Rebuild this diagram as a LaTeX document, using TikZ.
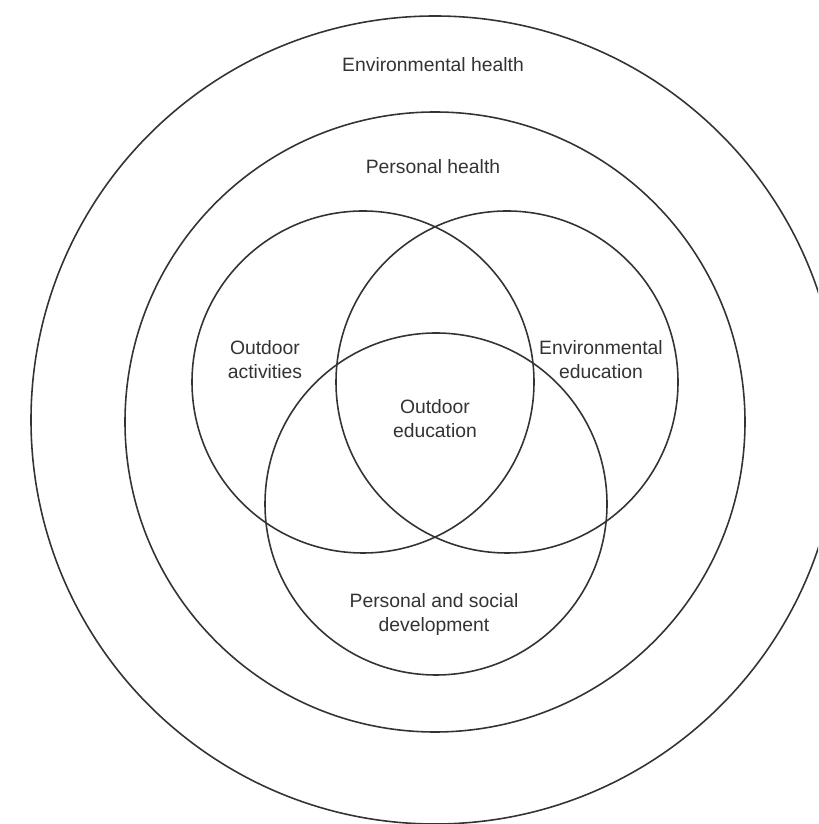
\documentclass[tikz,border=0pt]{standalone}
\usepackage{fontspec}
\setmainfont{Liberation Sans}
\usepackage{tikz}

\begin{document}
\begin{tikzpicture}
[
ring/.style={draw=black!80,line width=0.9pt,circle,inner sep=0pt,minimum size=#1},
lbl/.style={align=center,text=black!80,inner sep=0pt,font=\fontsize{11}{13.6}\selectfont},
]
\useasboundingbox (0,0) rectangle (16.36,16.48);
\clip (0,0) rectangle (16.36,16.48);

%Place the rings
\node[ring=16.16cm] (envhealth) at (8.70,8.08) {};
\node[ring=12.40cm] (perhealth) at (8.70,8.04) {};
%Place the three circles
\node[ring=6.84cm] (activities) at (7.26,8.84) {};
\node[ring=6.84cm] (enveducation) at (10.14,8.84) {};
\node[ring=6.84cm] (development) at (8.72,6.40) {};

%Place the labels
\node[lbl] (envhealthtxt) at (8.66,15.18) {Environmental health};
\node[lbl] (perhealthtxt) at (8.66,13.14) {Personal health};
\node[lbl] (activitiestxt) at (5.30,9.28) {Outdoor\\activities};
\node[lbl] (enveducationtxt) at (12.02,9.28) {Environmental\\education};
\node[lbl] (outdoortxt) at (8.70,8.11) {Outdoor\\education};
\node[lbl] (developmenttxt) at (8.68,4.19) {Personal and social\\development};
\end{tikzpicture}
\end{document}
